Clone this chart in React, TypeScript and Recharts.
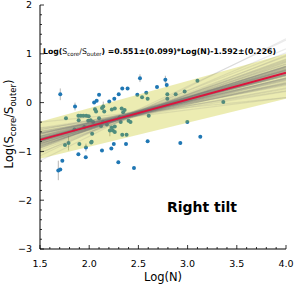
import React from 'react';
import { ComposedChart, XAxis, YAxis, Scatter, Line, Area, ErrorBar } from 'recharts';

// ---- data ----
const xTicks = [1.5, 1.6, 1.7, 1.8, 1.9, 2.0, 2.1, 2.2, 2.3, 2.4, 2.5, 2.6, 2.7, 2.8, 2.9, 3.0, 3.1, 3.2, 3.3, 3.4, 3.5, 3.6, 3.7, 3.8, 3.9, 4.0];
const yTicks = [-3, -2.8, -2.6, -2.4, -2.2, -2, -1.8, -1.6, -1.4, -1.2, -1, -0.8, -0.6, -0.4, -0.2, 0, 0.2, 0.4, 0.6, 0.8, 1, 1.2, 1.4, 1.6, 1.8, 2];

const pointX = [1.706, 1.856, 2.05, 2.076, 2.1, 2.204, 2.255, 2.3, 2.336, 2.39, 2.516, 2.689, 2.774, 2.788, 2.489, 2.537, 2.58,
  2.594, 2.794, 2.794, 2.879, 2.97, 3.1, 3.363, 1.764, 1.89, 1.915, 1.94, 1.97, 1.995, 1.893, 1.99, 2.015, 2.059, 2.07, 2.143,
  2.153, 2.13, 2.1, 2.04, 2.23, 2.26, 2.33, 2.345, 2.36, 2.31, 2.4, 2.42, 2.32, 2.605, 2.21, 2.24, 2.26, 2.336, 2.38, 2.03,
  1.79, 1.754, 2.025, 1.9, 2.02, 2.12, 2.18, 1.85, 1.95, 2.26, 2.23, 2.14,
  1.686, 1.706, 1.727, 1.89, 1.965, 1.967, 2.13, 2.225, 2.25, 2.296, 2.374, 2.455, 2.594, 2.926, 2.997, 3.129];
const pointY = [0.17, -0.08, 0.0, 0.04, 0.16, 0.02, 0.08, 0.17, 0.29, 0.29, 0.5, 0.32, 0.47, 0.36, 0.16, 0.11, 0.2,
  0.08, 0.17, 0.08, 0.17, 0.23, 0.45, 0.01, -0.32, -0.27, -0.27, -0.27, -0.27, -0.28, -0.36, -0.37, -0.36, -0.135, -0.18, -0.08,
  -0.18, -0.11, -0.32, -0.4, -0.14, -0.12, -0.12, -0.2, -0.15, -0.3, -0.37, -0.4, -0.4, -0.27, -0.57, -0.57, -0.6, -0.66, -0.66, -0.64,
  -0.83, -0.87, -0.8, -0.85, -0.82, -0.48, -0.45, -0.55, -0.5, -0.49, -0.51, -0.4,
  -1.39, -1.37, -1.19, -1.06, -1.12, -0.92, -0.98, -0.94, -0.85, -1.22, -0.85, -1.34, -0.79, -0.83, -0.4, -0.7];
const pointErr = [0.12, 0.08, 0.03, 0.03, 0.03, 0.03, 0.03, 0.03, 0.03, 0.03, 0.08, 0.03, 0.08, 0.05, 0.03, 0.03, 0.03,
  0.03, 0.03, 0.03, 0.03, 0.03, 0.03, 0.03, 0.03, 0.03, 0.03, 0.03, 0.03, 0.03, 0.03, 0.03, 0.03, 0.03, 0.03, 0.1,
  0.03, 0.03, 0.03, 0.03, 0.03, 0.03, 0.03, 0.03, 0.03, 0.03, 0.03, 0.03, 0.03, 0.03, 0.12, 0.03, 0.03, 0.03, 0.03, 0.03,
  0.15, 0.03, 0.03, 0.03, 0.03, 0.03, 0.03, 0.03, 0.03, 0.03, 0.03, 0.03,
  0.2, 0.03, 0.03, 0.03, 0.03, 0.08, 0.03, 0.03, 0.03, 0.03, 0.03, 0.03, 0.03, 0.03, 0.03, 0.03];

const lineX = [1.5, 4.0];
const bandLow = [-1.15, 0.08];
const bandHigh = [-0.39, 1.0];
const fitY = [-0.7655, 0.612];

// posterior sample lines: value at x=1.5 and at x=4.0
const sampleStart = [-0.76, -0.78, -0.745, -0.88, -0.65, -0.84, -0.68, -0.9, -0.63, -0.73, -0.87, -0.7, -0.92, -0.59, -0.69,
  -0.93, -0.64, -1.03, -0.52, -0.78, -0.75, -0.8, -0.75, -0.85, -0.66, -0.79, -0.69, -0.97, -0.56, -0.79, -0.84, -0.64, -1.03,
  -0.59, -0.75, -0.86, -0.73, -0.93, -0.62, -0.74, -1.09, -0.53, -1.19, -0.4,
  -0.724, -0.801, -0.743, -0.83, -0.685, -0.839, -0.717, -0.742, -0.793, -0.857, -0.629, -0.811, -0.744, -0.79, -0.726,
  -0.896, -0.62, -0.802, -0.705, -0.808, -0.773, -0.772, -0.764, -0.781, -0.696, -0.839, -0.638, -0.897, -0.601, -0.895,
  -0.753, -0.742, -0.821, -0.744, -0.8, -0.695, -0.878, -0.698, -0.934, -0.552];
const sampleEnd = [0.61, 0.72, 0.505, 0.75, 0.48, 0.61, 0.62, 0.86, 0.37, 0.67, 0.68, 0.5, 0.95, 0.28, 0.66,
  0.72, 0.46, 0.97, 0.24, 0.64, 0.57, 0.73, 0.48, 0.85, 0.39, 0.68, 0.58, 0.83, 0.39, 0.58, 0.74, 0.54, 1.1,
  0.23, 0.65, 0.74, 0.42, 1.02, 0.3, 0.61, 1.28, 0.1, 1.31, 0.1,
  0.576, 0.649, 0.633, 0.67, 0.565, 0.737, 0.459, 0.684, 0.557, 0.793, 0.447, 0.665, 0.582, 0.736, 0.5,
  0.83, 0.406, 0.598, 0.571, 0.792, 0.603, 0.654, 0.562, 0.695, 0.504, 0.711, 0.488, 0.779, 0.375, 0.881,
  0.597, 0.658, 0.629, 0.556, 0.7, 0.555, 0.748, 0.402, 0.892, 0.348];

const points = pointX.map((x, i) => ({ x, y: pointY[i], err: pointErr[i] }));
const bandData = lineX.map((x, i) => ({ x, band: [bandLow[i], bandHigh[i]] }));
const fitData = lineX.map((x, i) => ({ x, y: fitY[i] }));
const samples = sampleStart.map((s, i) => [{ x: lineX[0], y: s }, { x: lineX[1], y: sampleEnd[i] }]);

// ---- styling helpers ----
const FONT = 'DejaVu Sans';
const W = 294;
const H = 284;
const MARGIN = { top: 5, right: 8, left: 0, bottom: 0 };
const isHalf = (v: number) => Math.abs(v * 2 - Math.round(v * 2)) < 1e-6;
const isInt = (v: number) => Math.abs(v - Math.round(v)) < 1e-6;
const fmtY = (v: number) => (v < 0 ? '\u2212' + Math.abs(Math.round(v)) : String(Math.round(v)));

const BottomTick = (p: any) => {
  const v = p.payload.value;
  const major = isHalf(v);
  return (
    <g>
      <line x1={p.x} x2={p.x} y1={p.y} y2={p.y - (major ? 4 : 2)} stroke="#000" strokeWidth={0.8} />
      {major && (
        <text x={p.x} y={p.y + 17.8} textAnchor="middle" fontSize={9.5} fontFamily={FONT} fill="#000">
          {v.toFixed(1)}
        </text>
      )}
    </g>
  );
};
const TopTick = (p: any) => {
  const v = p.payload.value;
  const major = isHalf(v);
  return <line x1={p.x} x2={p.x} y1={p.y} y2={p.y + (major ? 4 : 2)} stroke="#000" strokeWidth={0.8} />;
};
const LeftTick = (p: any) => {
  const v = p.payload.value;
  const major = isInt(v);
  return (
    <g>
      <line x1={p.x} x2={p.x + (major ? 4 : 2)} y1={p.y} y2={p.y} stroke="#000" strokeWidth={0.8} />
      {major && (
        <text x={p.x - 8} y={p.y + 3.4} textAnchor="end" fontSize={9.5} fontFamily={FONT} fill="#000">
          {fmtY(v)}
        </text>
      )}
    </g>
  );
};
const RightTick = (p: any) => {
  const v = p.payload.value;
  const major = isInt(v);
  return <line x1={p.x} x2={p.x - (major ? 4 : 2)} y1={p.y} y2={p.y} stroke="#000" strokeWidth={0.8} />;
};

const DotShape = (p: any) => <circle cx={p.cx} cy={p.cy} r={2} fill="#1f77b4" />;

const axisLineStyle = { stroke: '#000', strokeWidth: 1 };

export default function App() {
  const hidden = { tick: false as const, axisLine: false as const, tickLine: false as const };
  return (
    <div style={{ position: 'absolute', left: 0, top: 0, width: W, height: H }}>
      {/* bottom layer: data points with error bars */}
      <div style={{ position: 'absolute', left: 0, top: 0 }}>
        <ComposedChart width={W} height={H} margin={MARGIN}>
          <XAxis xAxisId="x" dataKey="x" type="number" domain={[1.5, 4]} ticks={xTicks} allowDataOverflow height={35} {...hidden} />
          <XAxis xAxisId="xt" orientation="top" dataKey="x" type="number" domain={[1.5, 4]} ticks={xTicks} allowDataOverflow height={0} {...hidden} />
          <YAxis yAxisId="y" type="number" domain={[-3, 2]} ticks={yTicks} allowDataOverflow width={40} {...hidden} />
          <YAxis yAxisId="yr" orientation="right" type="number" domain={[-3, 2]} ticks={yTicks} allowDataOverflow width={0} {...hidden} />
          <Scatter data={points} dataKey="y" xAxisId="x" yAxisId="y" shape={DotShape} isAnimationActive={false}>
            <ErrorBar dataKey="err" direction="y" width={0} stroke="#b5b5b5" strokeWidth={1} isAnimationActive={false} />
          </Scatter>
        </ComposedChart>
      </div>
      {/* top layer: band, posterior lines, best fit, axes */}
      <div style={{ position: 'absolute', left: 0, top: 0 }}>
        <ComposedChart width={W} height={H} margin={MARGIN}>
          <XAxis xAxisId="x" dataKey="x" type="number" domain={[1.5, 4]} ticks={xTicks} interval={0} allowDataOverflow
            tick={BottomTick} tickLine={false} tickSize={0} tickMargin={0} height={35} axisLine={axisLineStyle} />
          <XAxis xAxisId="xt" orientation="top" dataKey="x" type="number" domain={[1.5, 4]} ticks={xTicks} interval={0} allowDataOverflow
            tick={TopTick} tickLine={false} tickSize={0} tickMargin={0} height={0} axisLine={axisLineStyle} />
          <YAxis yAxisId="y" type="number" domain={[-3, 2]} ticks={yTicks} interval={0} allowDataOverflow
            tick={LeftTick} tickLine={false} tickSize={0} tickMargin={0} width={40} axisLine={axisLineStyle} />
          <YAxis yAxisId="yr" orientation="right" type="number" domain={[-3, 2]} ticks={yTicks} interval={0} allowDataOverflow
            tick={RightTick} tickLine={false} tickSize={0} tickMargin={0} width={0} axisLine={axisLineStyle} />
          <Area data={bandData} dataKey="band" xAxisId="x" yAxisId="y" type="linear" stroke="none" fill="#bfbf00"
            fillOpacity={0.3} isAnimationActive={false} dot={false} activeDot={false} />
          {samples.map((d, i) => (
            <Line key={i} data={d} dataKey="y" xAxisId="x" yAxisId="y" type="linear" dot={false} activeDot={false}
              stroke="#7a7a7a" strokeOpacity={0.15} strokeWidth={1.2} isAnimationActive={false} />
          ))}
          <Line data={fitData} dataKey="y" xAxisId="x" yAxisId="y" type="linear" dot={false} activeDot={false}
            stroke="#dc143c" strokeWidth={1.8} isAnimationActive={false} />
        </ComposedChart>
      </div>
      <svg width={W} height={H} style={{ position: 'absolute', left: 0, top: 0, pointerEvents: 'none' }}>
        <text transform="translate(13,124) rotate(-90)" textAnchor="middle" fontSize={11.5} fontFamily={FONT} fill="#000">
          Log(S<tspan fontSize={8.5} dy={2.5}>core</tspan><tspan dy={-2.5}>/S</tspan><tspan fontSize={8.5} dy={2.5}>outer</tspan><tspan dy={-2.5}>)</tspan>
        </text>
        <text x={163} y={281} textAnchor="middle" fontSize={11.5} fontFamily={FONT} fill="#000">Log(N)</text>
        <text x={43} y={54} fontSize={7.8} fontWeight="bold" fontFamily={FONT} fill="#000" textLength={233} lengthAdjust="spacingAndGlyphs">
          Log(<tspan fontWeight="normal">S</tspan><tspan fontWeight="normal" fontSize={5.6} dy={1.6}>core</tspan><tspan fontWeight="normal" dy={-1.6}>/S</tspan><tspan fontWeight="normal" fontSize={5.6} dy={1.6}>outer</tspan><tspan dy={-1.6}>) =0.551±(0.099)*Log(N)-1.592±(0.226)</tspan>
        </text>
        <text x={202} y={212.3} textAnchor="middle" fontSize={14} fontWeight="bold" fontFamily={FONT} fill="#000">Right tilt</text>
      </svg>
    </div>
  );
}
